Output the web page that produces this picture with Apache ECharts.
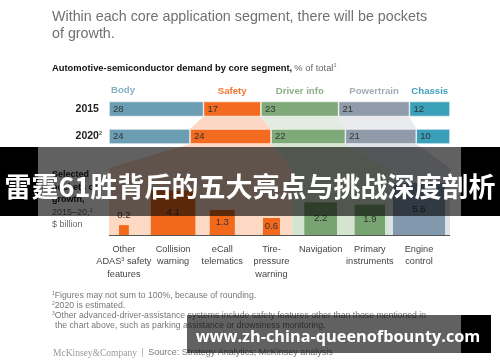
<!DOCTYPE html>
<html><head><meta charset="utf-8">
<script src="https://cdn.jsdelivr.net/npm/echarts@6/dist/echarts.min.js"></script>
<style>html,body{margin:0;padding:0;background:#fff}#c{width:500px;height:362px}</style>
</head><body><div id="c"></div>
<script>
// ---- data ----
const segments = ['Body', 'Safety', 'Driver info', 'Powertrain', 'Chassis'];
const years = ['2015', '2020'];
const share2015 = [28, 17, 23, 21, 12];
const share2020 = [24, 24, 22, 21, 10];
const pocketLabels = ['Other\nADAS{sup|3} safety\nfeatures', 'Collision\nwarning', 'eCall\ntelematics', 'Tire-\npressure\nwarning', 'Navigation', 'Primary\ninstruments', 'Engine\ncontrol'];
const pocketGrowth = [0.2, 4.1, 1.3, 0.6, 2.2, 1.9, 5.6];
const pocketSegment = [1, 1, 1, 1, 2, 2, 3];

// ---- styles ----
const SANS = '"Liberation Sans", Arial, sans-serif';
const segColors = ['#6b9db3', '#f26b21', '#80a97a', '#8f9ba8', '#3a9fb8'];
const headColors = ['#88b1c5', '#f07532', '#8db088', '#a3adb8', '#3f9fc0'];
const connColors = [null, '#fcd8c4', '#e3ece0', '#e9ebee', null];
const panelColors = [null, '#fdd9c4', '#d5e4d0', '#dde3e9'];
const pocketColors = [null, '#f2691c', '#77a470', '#8299ad'];

const chart = echarts.init(document.getElementById('c'), null, {renderer: 'canvas'});

const series = [];
segments.forEach((s, i) => {
  series.push({
    type: 'bar', name: s, stack: 'share', xAxisIndex: 0, yAxisIndex: 0, barWidth: 15, barGap: '-100%',
    data: [share2015[i], share2020[i]],
    itemStyle: {color: segColors[i], borderColor: '#fff', borderWidth: 0.6},
    label: {show: true, position: 'insideLeft', distance: 4, color: '#333', fontSize: 9.5, fontFamily: SANS},
    silent: true, z: 3
  });
});
segments.forEach((s, i) => {
  series.push({
    type: 'bar', name: s + ' header', stack: 'head', xAxisIndex: 0, yAxisIndex: 0, barWidth: 15, barGap: '-100%',
    data: [share2015[i], '-'],
    itemStyle: {color: 'rgba(0,0,0,0)'},
    label: i === 0
      ? {show: true, position: [2, -16], formatter: s, color: headColors[i], fontSize: 9.6, fontWeight: 'bold', fontFamily: SANS}
      : {show: true, position: 'top', distance: 5, formatter: s, color: headColors[i], fontSize: 9.6, fontWeight: 'bold', fontFamily: SANS},
    silent: true, z: 4
  });
});
series.push({
  type: 'custom', xAxisIndex: 1, yAxisIndex: 1, clip: false, silent: true, z: 5,
  data: pocketGrowth.map((v, i) => [i, v]),
  renderItem: function (params, api) {
    const i = api.value(0), v = api.value(1);
    const base = api.coord([i, 0]);
    const top = api.coord([i, Math.sqrt(v)]);
    const side = base[1] - top[1];
    const small = side < 14;
    return {
      type: 'group',
      children: [
        {type: 'rect', shape: {x: base[0] - side / 2, y: top[1], width: side, height: side},
         style: {fill: pocketColors[pocketSegment[i]]}},
        {type: 'text', style: {text: String(v), x: base[0], y: small ? top[1] - 10 : top[1] + side / 2,
          textAlign: 'center', textVerticalAlign: 'middle', fill: '#333', fontSize: 9.5, fontFamily: SANS}}
      ]
    };
  }
});

const option = {
  animation: false,
  backgroundColor: '#fff',
  grid: [
    {left: 109, width: 341, top: 95.25, height: 55},
    {left: 99.3, width: 344.3, top: 147, height: 88}
  ],
  xAxis: [
    {type: 'value', gridIndex: 0, min: 0, max: 101, show: false},
    {type: 'category', gridIndex: 1, data: pocketLabels, axisLine: {show: false}, axisTick: {show: false},
     axisLabel: {interval: 0, color: '#444', fontSize: 9.2, lineHeight: 12.5, margin: 8, fontFamily: SANS,
       rich: {sup: {fontSize: 5.5, padding: [0, 0, 5, 0], color: '#444'}}}}
  ],
  yAxis: [
    {type: 'category', gridIndex: 0, data: years, inverse: true, axisLine: {show: false}, axisTick: {show: false},
     axisLabel: {margin: 7, color: '#222', fontWeight: 'bold', fontSize: 10.5, fontFamily: SANS,
       formatter: v => v === '2020' ? v + '{sup|2}' : v + '{ph|2}',
       rich: {sup: {fontSize: 5.5, color: '#555', padding: [0, 0, 6, 0]}, ph: {fontSize: 5.5, color: 'rgba(0,0,0,0)'}}}},
    {type: 'value', gridIndex: 1, min: 0, max: 4, show: false}
  ],
  series: series
};
chart.setOption(option);

// ---- decorations derived from the axes ----
function px(v, cat) { return chart.convertToPixel({xAxisIndex: 0, yAxisIndex: 0}, [v, cat]); }
const cum15 = [0], cum20 = [0];
share2015.forEach(v => cum15.push(cum15[cum15.length - 1] + v));
share2020.forEach(v => cum20.push(cum20[cum20.length - 1] + v));
const y15b = px(0, 0)[1] + 7.5;
const y20t = px(0, 1)[1] - 7.5;
const y20b = px(0, 1)[1] + 7.5;
const L = px(0, 0)[0], R = px(101, 0)[0];
const baseY = chart.convertToPixel({xAxisIndex: 1, yAxisIndex: 1}, [0, 0])[1];

function pocketEdges(i) {
  const b = chart.convertToPixel({xAxisIndex: 1, yAxisIndex: 1}, [i, 0]);
  const t = chart.convertToPixel({xAxisIndex: 1, yAxisIndex: 1}, [i, Math.sqrt(pocketGrowth[i])]);
  const s = b[1] - t[1];
  return [b[0] - s / 2, b[0] + s / 2];
}
const bounds = {1: [L, 0], 2: [0, 0], 3: [0, R]};
for (let i = 0; i < pocketGrowth.length - 1; i++) {
  if (pocketSegment[i] !== pocketSegment[i + 1]) {
    const m = (pocketEdges(i)[1] + pocketEdges(i + 1)[0]) / 2;
    bounds[pocketSegment[i]][1] = m;
    bounds[pocketSegment[i + 1]][0] = m;
  }
}
const graphics = [];
[1, 2, 3].forEach(k => {
  graphics.push({type: 'polygon', z: 1, silent: true, shape: {points: [
    [px(cum15[k], 0)[0], y15b], [px(cum15[k + 1], 0)[0], y15b],
    [px(cum20[k + 1], 1)[0], y20t], [px(cum20[k], 1)[0], y20t]]},
    style: {fill: connColors[k]}});
  const yTop = y20b + 24;
  graphics.push({type: 'polygon', z: 1, silent: true, shape: {points: [
    [px(cum20[k], 1)[0], y20b], [px(cum20[k + 1], 1)[0], y20b],
    [bounds[k][1], yTop], [bounds[k][1], baseY], [bounds[k][0], baseY], [bounds[k][0], yTop]]},
    style: {fill: panelColors[k]}});
});
graphics.push({type: 'line', z: 6, silent: true, shape: {x1: L, y1: baseY + 0.5, x2: bounds[3][1], y2: baseY + 0.5},
  style: {stroke: '#555', lineWidth: 1}});

function txt(text, x, y, st) {
  return {type: 'text', z: 6, silent: true, style: Object.assign({text: text, x: x, y: y, fill: '#666', fontSize: 8, fontFamily: SANS, textVerticalAlign: 'middle'}, st || {})};
}
graphics.push(txt('Within each core application segment, there will be pockets', 52, 17, {fill: '#707070', fontSize: 14.3}));
graphics.push(txt('of growth.', 52, 34, {fill: '#707070', fontSize: 14.3}));
graphics.push(txt('{b|Automotive-semiconductor demand by core segment,} {n|% of total}{s|1}', 52, 68, {
  rich: {b: {fontWeight: 'bold', fill: '#111', fontSize: 9.4, fontFamily: SANS},
         n: {fill: '#666', fontSize: 9.4, fontFamily: SANS},
         s: {fill: '#666', fontSize: 5.5, fontFamily: SANS, padding: [0, 0, 5, 0]}}}));
graphics.push(txt('{b|Selected}\n{b|pockets of}\n{b|growth,}\n{n|2015–20,}{s|2}\n{n|$ billion}', 52, 200, {
  rich: {b: {fontWeight: 'bold', fill: '#222', fontSize: 9, lineHeight: 12.5, fontFamily: SANS},
         n: {fill: '#666', fontSize: 9, lineHeight: 12.5, fontFamily: SANS},
         s: {fill: '#666', fontSize: 5.5, fontFamily: SANS, padding: [0, 0, 5, 0]}}}));
const fnRich = {rich: {s: {fill: '#777', fontSize: 5, fontFamily: SANS, padding: [0, 0, 4, 0]}, t: {fill: '#777', fontSize: 8.7, fontFamily: SANS}}};
graphics.push(txt('{s|1}{t|Figures may not sum to 100%, because of rounding.}', 52, 296, fnRich));
graphics.push(txt('{s|2}{t|2020 is estimated.}', 52, 306, fnRich));
graphics.push(txt('{s|3}{t|Other advanced-driver-assistance systems include safety features other than those mentioned in}', 52, 316, fnRich));
graphics.push(txt('{t|the chart above, such as parking assistance or drowsiness monitoring.}', 55, 326, fnRich));
graphics.push(txt('{m|McKinsey&Company}  {p||}  {s|Source: Strategy Analytics; McKinsey analysis}', 53, 353, {
  rich: {m: {fill: '#9a9a9a', fontSize: 9.5, fontFamily: '"Liberation Serif", serif'},
         p: {fill: '#aaa', fontSize: 9, fontFamily: SANS},
         s: {fill: '#777', fontSize: 9, fontFamily: SANS}}}));

// overlay banner
graphics.push({type: 'rect', z: 20, silent: true, shape: {x: 38, y: 147, width: 423, height: 69}, style: {fill: 'rgba(0,0,0,0.62)'}});
graphics.push({type: 'rect', z: 20, silent: true, shape: {x: 0, y: 147, width: 38, height: 69}, style: {fill: '#000'}});
graphics.push({type: 'rect', z: 20, silent: true, shape: {x: 461, y: 147, width: 39, height: 69}, style: {fill: '#000'}});
graphics.push({type: 'text', z: 21, silent: true, style: {text: '雷霆61胜背后的五大亮点与挑战深度剖析', x: 250, y: 187,
  textAlign: 'center', textVerticalAlign: 'middle', fill: '#fff', fontSize: 27, fontWeight: 'bold', fontFamily: '"Noto Sans CJK SC", sans-serif'}});
// overlay watermark
graphics.push({type: 'rect', z: 20, silent: true, shape: {x: 187, y: 315, width: 274, height: 38}, style: {fill: 'rgba(0,0,0,0.62)'}});
graphics.push({type: 'rect', z: 20, silent: true, shape: {x: 461, y: 315, width: 30, height: 38}, style: {fill: '#000'}});
graphics.push({type: 'text', z: 21, silent: true, style: {text: 'www.zh-china-queenofbounty.com', x: 338, y: 337,
  textAlign: 'center', textVerticalAlign: 'middle', fill: '#fff', fontSize: 16.3, fontWeight: 'bold', fontFamily: '"Open Sans", "Noto Sans", sans-serif'}});

chart.setOption({graphic: graphics});
</script>
</body></html>
